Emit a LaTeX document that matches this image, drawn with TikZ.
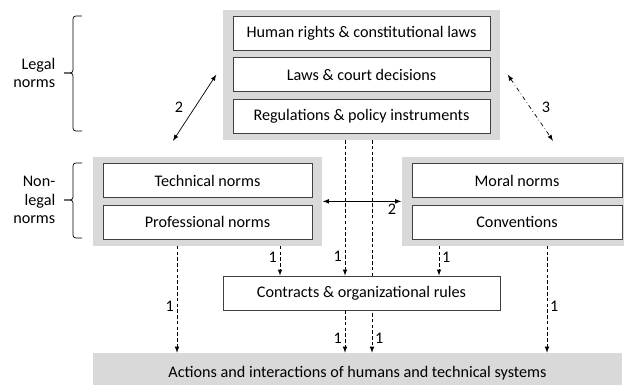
\documentclass[tikz,border=0pt]{standalone}
\usepackage{fontspec}
\setmainfont{Carlito}
\usetikzlibrary{arrows,positioning,calc,fit,backgrounds}
\definecolor{panelgray}{RGB}{217,217,217}
\definecolor{edgegray}{RGB}{64,64,64}

\begin{document}
\begin{tikzpicture}[x=0.025cm, y=-0.025cm, >=latex,
    font=\fontsize{11.5}{13}\selectfont,
    normbox/.style={draw=edgegray, fill=white, line width=0.6pt, inner sep=0pt,
      minimum width=6.425cm, minimum height=0.85cm},
    panel/.style={fill=panelgray, inner xsep=0.25cm, inner ysep=0.15cm},
    flow/.style={->, dash pattern=on 2.5pt off 1.6pt, line width=0.5pt},
    link/.style={<->, line width=0.5pt},
    num/.style={inner sep=2pt},
    node distance=0.17cm]
    \useasboundingbox (0,0) rectangle (624,384);
    \clip (0,0) rectangle (624,384);

    % legal norms
    \node[normbox] (hr) at (361.5,33) {Human rights \& constitutional laws};
    \node[normbox, below=of hr] (laws) {Laws \& court decisions};
    \node[normbox, below=of laws] (regs) {Regulations \& policy instruments};

    % non-legal norms, left and right
    \node[normbox, minimum width=5.225cm] (tech) at (207.5,180.5) {Technical norms};
    \node[normbox, minimum width=5.225cm, below=of tech] (prof) {Professional norms};
    \node[normbox, minimum width=5.25cm] (moral) at (517,180.5) {Moral norms};
    \node[normbox, minimum width=5.25cm, below=of moral] (conv) {Conventions};

    % grey panels behind the groups
    \begin{scope}[on background layer]
      \node[panel, fit=(hr)(regs)] (legal) {};
      \node[panel, fit=(tech)(prof)] (nonlegalL) {};
      \node[panel, fit=(moral)(conv)] (nonlegalR) {};
    \end{scope}

    % actions bar
    \node[fill=panelgray, minimum width=13.225cm, minimum height=1cm, inner sep=0pt]
      (actions) at (357.5,373) {Actions and interactions of humans and technical systems};

    % legal norms straight down, passing behind the contracts box
    \draw[flow] (legal.south -| 372,0) -- (actions.north -| 372,0)
      node[num, pos=0.93, right] {1};

    % contracts
    \node[normbox, minimum width=6.925cm] (contracts) at (361.5,293) {Contracts \& organizational rules};

    % dashed influences
    \draw[flow] (nonlegalL.south -| 177,0) -- (actions.north -| 177,0)
      node[num, pos=0.57, left] {1};
    \draw[flow] (nonlegalL.south -| 280,0) -- (contracts.north -| 280,0)
      node[num, pos=0.4, left] {1};
    \draw[flow] (legal.south -| 345,0) -- (contracts.north -| 345,0)
      node[num, pos=0.86, left] {1};
    \draw[flow] (nonlegalR.south -| 439,0) -- (contracts.north -| 439,0)
      node[num, pos=0.4, right] {1};
    \draw[flow] (nonlegalR.south -| 547,0) -- (actions.north -| 547,0)
      node[num, pos=0.57, right] {1};
    \draw[flow] (contracts.south -| 345,0) -- (actions.north -| 345,0)
      node[num, pos=0.65, left] {1};

    % mutual relations
    \draw[link] (nonlegalL.east) -- (nonlegalR.west)
      node[num, pos=0.88, below] {2};
    \draw[link] ($(legal.west)+(-6,0)$) -- ($(nonlegalL.north)+(-34.5,-16)$)
      node[num, midway, left=6pt] {2};
    \draw[link, dash dot] ($(legal.east)+(7,0)$) -- ($(nonlegalR.north)+(36,-16)$)
      node[num, midway, right=6pt] {3};

    % braces
    \draw[line width=0.5pt, rounded corners=2pt] (82,16) -- (73,16) -- (73,73) -- (64,73);
    \draw[line width=0.5pt, rounded corners=2pt] (82,131) -- (73,131) -- (73,73) -- (64,73)
      node[left, align=right, inner sep=6pt] (legalnorms) {Legal\\norms};
    \draw[line width=0.5pt, rounded corners=2pt] (82,163) -- (73,163) -- (73,200) -- (64,200);
    \draw[line width=0.5pt, rounded corners=2pt] (82,238) -- (73,238) -- (73,200) -- (64,200)
      node[left, align=right, inner sep=6pt] (nonlegalnorms) {Non-\\legal\\norms};
\end{tikzpicture}
\end{document}
